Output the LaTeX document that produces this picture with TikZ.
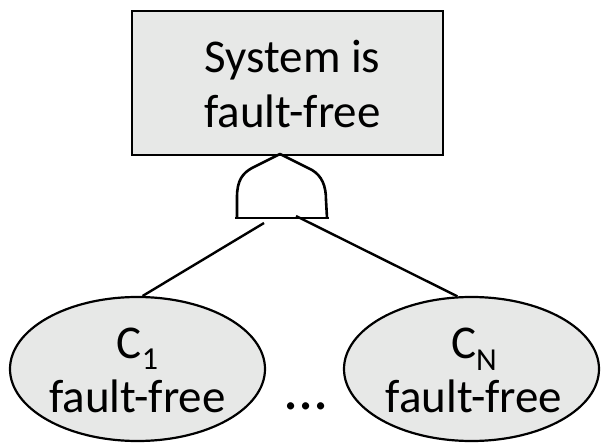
\documentclass[tikz,border=0pt]{standalone}
\usepackage{fontspec}
\setmainfont{Carlito}
\usetikzlibrary{shapes.geometric}
\definecolor{boxfill}{RGB}{231,232,231}
\begin{document}
\begin{tikzpicture}[x=1pt,y=-1pt,
  lbl/.style={inner sep=0pt,anchor=base,font=\fontsize{47}{55}\selectfont},
  sub/.style={font=\fontsize{32}{32}\selectfont},
  eventbox/.style={draw,fill=boxfill,line width=2.8pt,minimum width=311pt,minimum height=144pt,inner sep=0pt},
  basic/.style={ellipse,draw,fill=boxfill,line width=2.2pt,minimum width=255pt,minimum height=144pt,inner sep=0pt},
  wire/.style={line width=2.4pt},
  gatestyle/.style={line width=2.6pt,line join=round}]
\useasboundingbox (0,0) rectangle (602,443);
% top event
\node[eventbox] (top) at (287.5,83) {};
\node[lbl] (t1) at (292.5,73) {System is};
\node[lbl] (t2) at (292.5,128) {fault-free};
% AND gate
\coordinate (gapex) at (280,154);
\draw[gatestyle] (237,218) -- (237,197) .. controls (237,180) and (243,173) .. (252,168) -- (gapex) -- (312,170) .. controls (322,176) and (326,186) .. (326,200) -- (327,218);
\draw[gatestyle] (235,218) -- (329,218);
\coordinate (ga) at (264,223);
\coordinate (gb) at (296,216);
% basic events
\node[basic] (e1) at (137.5,369) {};
\node[basic] (e2) at (471.5,369) {};
\node[lbl] (c1) at (137.5,358) {C\raisebox{-12pt}{\fontsize{32}{32}\selectfont 1}};
\node[lbl] (f1) at (137.5,412) {fault-free};
\node[lbl] (c2) at (474,358) {C\raisebox{-13pt}{\fontsize{32}{32}\selectfont N}};
\node[lbl] (f2) at (474,412) {fault-free};
\node[inner sep=0pt,anchor=base,font=\fontsize{60}{60}\selectfont] (dots) at (306,409) {...};
% connectors
\draw[wire] (ga) -- (e1.86);
\draw[wire] (gb) -- (e2.101);
\end{tikzpicture}
\end{document}
